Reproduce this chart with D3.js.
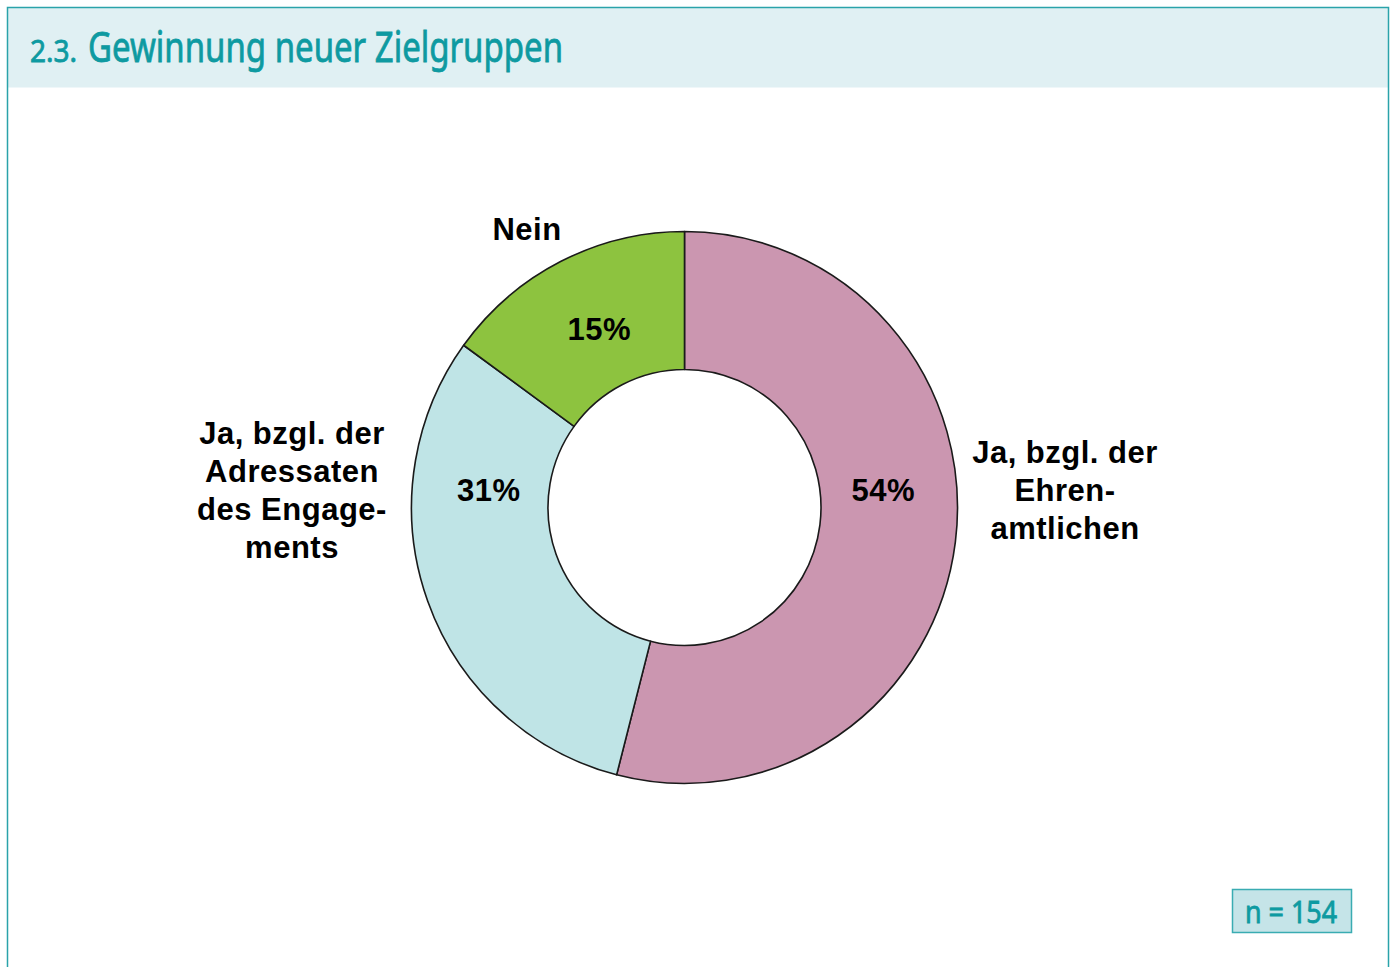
<!DOCTYPE html>
<html>
<head>
<meta charset="utf-8">
<script src="https://cdn.jsdelivr.net/npm/d3@7"></script>
<style>
  body { margin: 0; background: #fff; }
  svg { display: block; }
  .lbl { font-family: "Liberation Sans", Arial, sans-serif; font-weight: bold; font-size: 31px; letter-spacing: 0.5px; fill: #000; }
  .teal { font-family: "Noto Sans", sans-serif; fill: #0e9aa1; stroke: #0e9aa1; stroke-width: 0.8px; }
</style>
</head>
<body>
<script>
// chart data
const categories = ["Ja, bzgl. der Ehrenamtlichen", "Ja, bzgl. der Adressaten des Engagements", "Nein"];
const values = [54, 31, 15];
const valueLabels = ["54%", "31%", "15%"];
const colors = ["#cb96b0", "#bfe4e6", "#8dc33f"];
// outside label lines (as printed, with hyphenation)
const outerLines = [
    ["Ja, bzgl. der", "Ehren-", "amtlichen"],
    ["Ja, bzgl. der", "Adressaten", "des Engage-", "ments"],
    ["Nein"]
];
const titleNum = "2.3.";
const titleText = "Gewinnung neuer Zielgruppen";
const sampleText = "n = 154";

// layout
const W = 1394, H = 967;
const CX = 684.5, CY = 507.5;
const R_OUT = 273, R_IN = 136.5, Y_STRETCH = 1.011;
const LABEL_R = 198, LABEL_DX = 1.5;
const labelAngles = [85, 275, 334];          // degrees, clockwise from top
const outerPos = [[1065, 490], [292, 490], [527, 229]];
const LINE_H = 38;

const svg = d3.select("body").append("svg")
    .attr("width", W)
    .attr("height", H);

// frame + header band
svg.append("rect")
    .attr("x", 7.5).attr("y", 7.5)
    .attr("width", 1381).attr("height", 80)
    .attr("fill", "#e0f0f3");
svg.append("path")
    .attr("d", "M7.5," + H + "V7.5H1388.5V" + H)
    .attr("fill", "none")
    .attr("stroke", "#2aa3aa")
    .attr("stroke-width", 1.5);

// title
svg.append("text")
    .attr("class", "teal")
    .attr("x", 30).attr("y", 62)
    .attr("font-size", 31)
    .attr("textLength", 47)
    .attr("lengthAdjust", "spacingAndGlyphs")
    .text(titleNum);
svg.append("text")
    .attr("class", "teal")
    .attr("x", 88).attr("y", 62)
    .attr("font-size", 41)
    .attr("textLength", 475)
    .attr("lengthAdjust", "spacingAndGlyphs")
    .text(titleText);

// donut
const pie = d3.pie().sort(null).value(d => d)(values);
const arc = d3.arc().innerRadius(R_IN).outerRadius(R_OUT);

const g = svg.append("g").attr("transform", "translate(" + CX + "," + CY + ")");

g.append("g")
    .attr("transform", "scale(1," + Y_STRETCH + ")")
    .selectAll("path.slice")
    .data(pie)
    .enter()
    .append("path")
    .attr("class", "slice")
    .attr("d", arc)
    .attr("fill", (d, i) => colors[i])
    .attr("stroke", "#1a1a1a")
    .attr("stroke-width", 1.6)
    .attr("stroke-linejoin", "round");

// percentage labels
g.selectAll("text.val")
    .data(pie)
    .enter()
    .append("text")
    .attr("class", "lbl val")
    .attr("text-anchor", "middle")
    .attr("dominant-baseline", "central")
    .attr("x", (d, i) => LABEL_DX + LABEL_R * Math.sin(labelAngles[i] * Math.PI / 180))
    .attr("y", (d, i) => -LABEL_R * Math.cos(labelAngles[i] * Math.PI / 180))
    .text((d, i) => valueLabels[i]);

// category labels
outerLines.forEach((lines, i) => {
    const t = svg.append("text")
        .attr("class", "lbl")
        .attr("text-anchor", "middle")
        .attr("dominant-baseline", "central");
    const y0 = outerPos[i][1] - (lines.length - 1) * LINE_H / 2;
    lines.forEach((ln, j) => {
        t.append("tspan")
            .attr("x", outerPos[i][0])
            .attr("y", y0 + j * LINE_H)
            .text(ln);
    });
});

// sample size box
svg.append("rect")
    .attr("x", 1232.5).attr("y", 889.5)
    .attr("width", 119).attr("height", 43)
    .attr("fill", "#c5e4e8")
    .attr("stroke", "#3aacb2")
    .attr("stroke-width", 1.5);
svg.append("text")
    .attr("class", "teal")
    .attr("x", 1291).attr("y", 923)
    .attr("text-anchor", "middle")
    .attr("font-size", 30)
    .attr("textLength", 92)
    .attr("lengthAdjust", "spacingAndGlyphs")
    .text(sampleText);
</script>
</body>
</html>
